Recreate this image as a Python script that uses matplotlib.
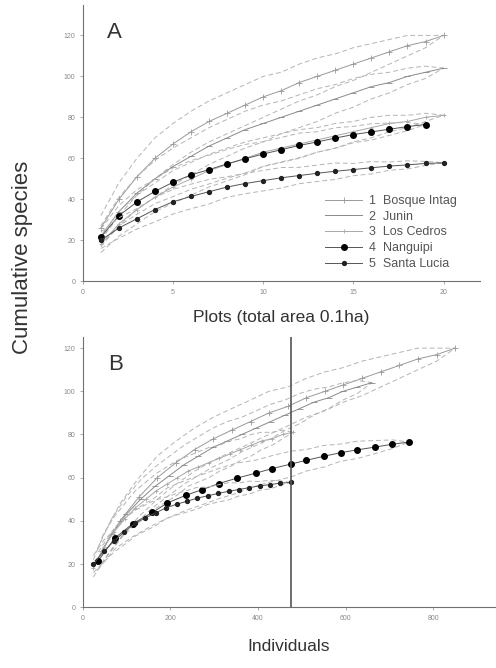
import numpy as np
import matplotlib
matplotlib.use("Agg")
import matplotlib.pyplot as plt

plt.rcParams['font.family'] = ['Liberation Sans', 'DejaVu Sans']

# sites
names = ["1  Bosque Intag", "2  Junin", "3  Los Cedros", "4  Nanguipi", "5  Santa Lucia"]

# cumulative species per plot
bosque = [26, 40, 51, 60, 67, 73, 78, 82, 86, 90, 93, 97, 100, 103, 106, 109, 112, 115, 117, 120]
junin = [22, 34, 43, 50, 56, 61, 66, 70, 74, 77, 80, 83, 86, 89, 92, 95, 97, 100, 102, 104]
cedros = [18, 28, 35, 41, 46, 50, 54, 57, 60, 63, 65, 67, 69, 71, 73, 75, 77, 78, 80, 81]
nanguipi = [21.5, 32, 38.7, 43.9, 48.3, 51.9, 54.5, 57.3, 59.8, 62.1, 64.2, 66.3, 68, 69.9,
            71.6, 72.9, 74.2, 75.5, 76.5]
lucia = [20, 26, 30.5, 35, 38.8, 41.4, 43.7, 46, 47.7, 49.1, 50.5, 51.6, 52.7, 53.7, 54.5,
         55.4, 56.2, 56.8, 57.5, 57.8]

# 95% CI half widths
ci_bosque = [6, 8, 9, 10, 10, 10, 10, 10, 10, 10, 9, 9, 9, 8, 8, 7, 6, 5, 3, 0]
ci_junin = [5, 7, 8, 9, 9, 9, 9, 9, 9, 9, 8, 8, 8, 7, 7, 6, 5, 4, 3, 0]
ci_cedros = [4, 6, 7, 7, 8, 8, 8, 8, 8, 7, 7, 7, 6, 6, 5, 5, 4, 3, 2, 0]
ci_nanguipi = [4, 5, 6, 6, 7, 7, 7, 7, 7, 6, 6, 6, 5, 5, 4, 4, 3, 2, 0]
ci_lucia = [4, 5, 5, 6, 6, 6, 6, 5, 5, 5, 5, 4, 4, 4, 3, 3, 2, 2, 1, 0]

# cumulative individuals per plot (panel B)
ind_bosque = [43, 85, 128, 170, 213, 255, 298, 340, 383, 425, 468, 510, 553, 595, 638, 680,
              723, 765, 808, 850]
ind_junin = [33, 66, 99, 132, 165, 198, 231, 264, 297, 330, 363, 396, 429, 462, 495, 528,
             561, 594, 627, 660]
ind_cedros = [24, 48, 72, 96, 120, 144, 168, 192, 216, 240, 264, 288, 312, 336, 360, 384,
              408, 432, 456, 480]
ind_nanguipi = [35, 73, 114, 159, 193, 236, 273, 311, 352, 395, 432, 475, 509, 550, 589, 627,
                668, 707, 745]
ind_lucia = [24, 48, 71, 95, 119, 143, 166, 190, 214, 238, 261, 285, 309, 333, 356, 380, 404,
             428, 451, 475]
cutoff = 475

series = [
    (bosque, ci_bosque, ind_bosque, dict(color='#9a9a9a', marker='+', ms=4, mew=0.6)),
    (junin, ci_junin, ind_junin, dict(color='#8a8a8a', marker='_', ms=4, mew=0.6)),
    (cedros, ci_cedros, ind_cedros, dict(color='#a8a8a8', marker='+', ms=3, mew=0.6)),
    (nanguipi, ci_nanguipi, ind_nanguipi, dict(color='#555555', marker='o', ms=4, mfc='black', mec='black')),
    (lucia, ci_lucia, ind_lucia, dict(color='#555555', marker='o', ms=2.8, mfc='#222222', mec='#222222')),
]

fig = plt.figure(figsize=(4.96, 6.68), dpi=100)
axA = fig.add_axes([0.167, 0.579, 0.80, 0.414])
axB = fig.add_axes([0.167, 0.091, 0.83, 0.404])

for ax, panel in [(axA, 'A'), (axB, 'B')]:
    for (sp, ci, ind, st), name in zip(series, names):
        sp = np.array(sp)
        ci = np.array(ci)
        x = np.arange(1, len(sp) + 1) if panel == 'A' else np.array(ind)
        ax.plot(x, sp + ci, ls=(0, (5, 3)), lw=0.7, color='#b4b4b4')
        ax.plot(x, sp - ci, ls=(0, (5, 3)), lw=0.7, color='#b4b4b4')
        ax.plot(x, sp, lw=0.7, label=name, **st)
    for s in ['top', 'right']:
        ax.spines[s].set_visible(False)
    for s in ['left', 'bottom']:
        ax.spines[s].set_color('#707070')
        ax.spines[s].set_linewidth(0.8)
    ax.tick_params(labelsize=5, colors='#8a8a8a', length=2, width=0.5)
    ax.text(0.08, 0.9, panel, transform=ax.transAxes, fontsize=16, va='center', ha='center',
            color='#333333')

axA.set_xlim(0, 22)
axA.set_ylim(0, 135)
axA.set_xticks([0, 5, 10, 15, 20])
axA.set_yticks([0, 20, 40, 60, 80, 100, 120])
axA.set_xlabel('Plots (total area 0.1ha)', fontsize=12.5, color='#333333', labelpad=10)
axA.legend(loc='lower right', bbox_to_anchor=(0.97, 0.0), frameon=False, fontsize=9,
           handlelength=3.0, handletextpad=0.5, labelspacing=0.3, labelcolor='#555555')

axB.set_xlim(0, 940)
axB.set_ylim(0, 125)
axB.set_xticks([0, 200, 400, 600, 800])
axB.set_yticks([0, 20, 40, 60, 80, 100, 120])
axB.axvline(cutoff, color='#555555', lw=1.2)
axB.set_xlabel('Individuals', fontsize=12.5, color='#333333', labelpad=12)

fig.text(0.045, 0.615, 'Cumulative species', rotation=90, fontsize=16, color='#333333',
         va='center', ha='center')

fig.savefig('out.png', dpi=100)
